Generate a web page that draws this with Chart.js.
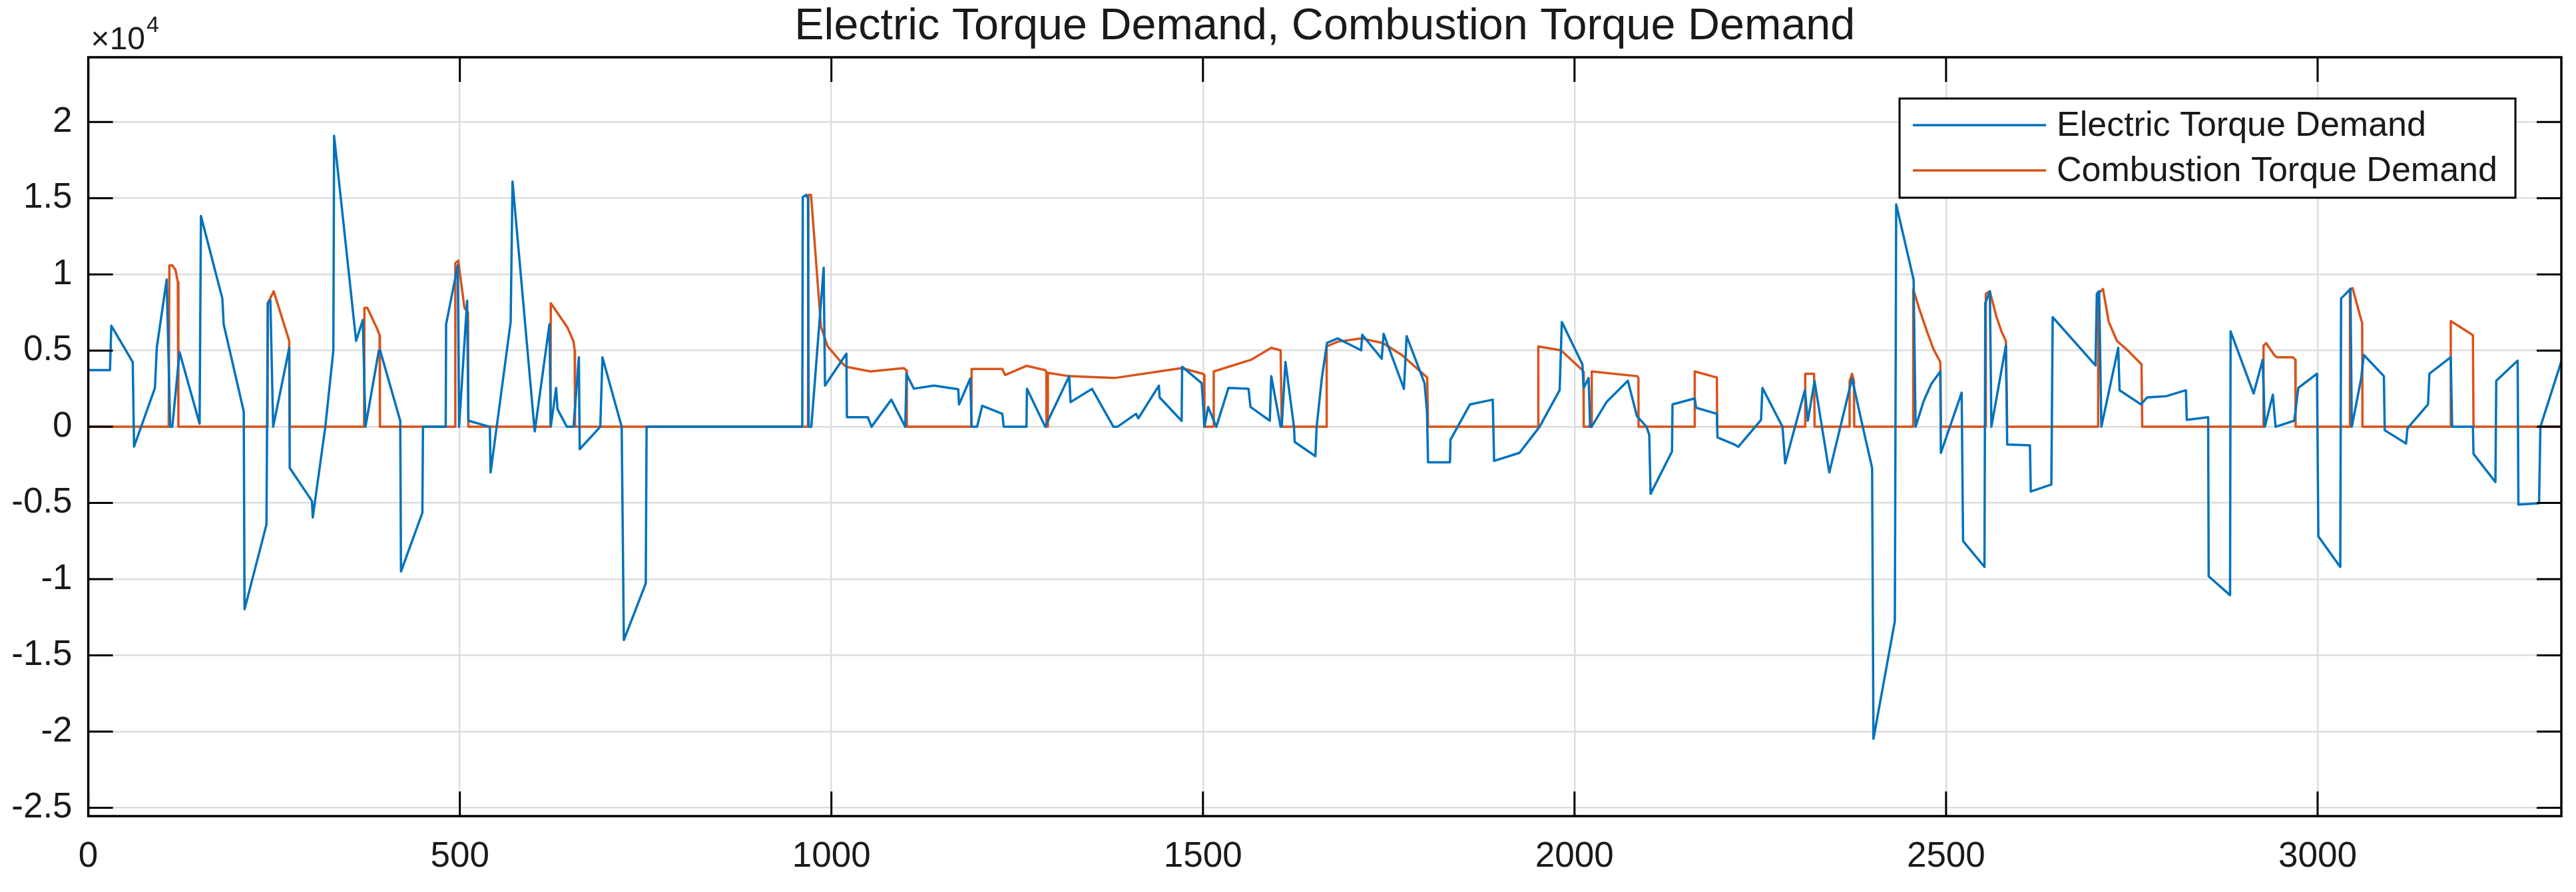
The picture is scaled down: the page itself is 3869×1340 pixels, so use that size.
<!DOCTYPE html>
<html>
<head>
<meta charset="utf-8">
<title>Electric Torque Demand, Combustion Torque Demand</title>
<script src="https://cdn.jsdelivr.net/npm/chart.js@4.4.1/dist/chart.umd.min.js"></script>
<style>
  html, body { margin: 0; padding: 0; background: #fff; }
  canvas { display: block; }
</style>
</head>
<body>
<canvas id="torqueChart" width="3869" height="1340"></canvas>
<script>
// (torque values, x = sample index)
const electricX = [0, 29.2, 31, 59.8, 61.6, 89.7, 92.2, 105.5, 110.2, 113.1, 122.8, 149.8, 151.6, 180.4, 182.2, 209.2, 210.3, 239.8, 241.6, 245, 248.8, 270.4, 271.1, 301, 302.1, 319, 329.8, 330.8, 360.4, 369.4, 373, 391, 392.8, 419.8, 420.8, 449.6, 450.4, 481, 481.5, 497.2, 499, 509.8, 511.5, 540.4, 541.4, 568.4, 570.9, 600, 600.8, 620.6, 622.4, 629.6, 631.4, 644, 653, 660.2, 661.3, 689, 691.9, 717.8, 720.7, 750.2, 751.3, 960.8, 961.5, 966.2, 968.5, 969.5, 973, 989.6, 991.4, 1020.2, 1020.9, 1049, 1054, 1080.6, 1099.4, 1101.1, 1104, 1111, 1138, 1170.7, 1171.8, 1186.9, 1188.7, 1196, 1203, 1230, 1231.9, 1262.5, 1263.2, 1287.7, 1320, 1321.9, 1350.7, 1379.5, 1385, 1410, 1413, 1440.7, 1441.7, 1471.3, 1472, 1498.3, 1500, 1502, 1507, 1518, 1534.3, 1561.3, 1564, 1590, 1591.9, 1604.5, 1606, 1611, 1622.5, 1623.5, 1651.3, 1653, 1660, 1667, 1681.2, 1712.9, 1714.3, 1740.6, 1743.1, 1770.5, 1774.1, 1798.2, 1801.5, 1802.9, 1832.4, 1833.1, 1859.4, 1890, 1891.8, 1926, 1953, 1980, 1982.9, 2010.6, 2012.4, 2019, 2021, 2023, 2043, 2071.8, 2084, 2097, 2100.6, 2102.4, 2131.2, 2131.9, 2161.8, 2163.6, 2191.6, 2192.4, 2215, 2220.5, 2251, 2252.9, 2279.9, 2283.5, 2310, 2314, 2323, 2342.9, 2373.5, 2387.9, 2400.5, 2402.3, 2431.1, 2432.9, 2456.3, 2459, 2470, 2480, 2492.3, 2493, 2521, 2522.9, 2551.7, 2552.8, 2559, 2561, 2580.5, 2582.3, 2612.9, 2614, 2641.7, 2643.5, 2701.1, 2702.9, 2706, 2709, 2731.7, 2733.5, 2762.3, 2770.6, 2795.8, 2822.8, 2823.9, 2852.7, 2853.4, 2882.2, 2882.9, 2913.9, 2926.1, 2929, 2939.8, 2943.4, 2968.6, 2974, 2999.2, 3001, 3030.5, 3031.6, 3044.2, 3046, 3058.6, 3062.2, 3089.2, 3090.3, 3119, 3121, 3148.6, 3150.4, 3179.2, 3181, 3209, 3209.8, 3239.3, 3240.4, 3269.2, 3270.2, 3298, 3299.8, 3328];
const electricY = [3720, 3720, 6630, 4250, -1300, 2550, 5200, 9660, 0, 0, 4900, 200, 13830, 8420, 6730, 1000, -11980, -6410, 8110, 8300, 0, 5180, -2700, -4870, -5950, 0, 5020, 19090, 5640, 7000, 0, 5000, 5000, 400, -9500, -5640, 0, 0, 6720, 10600, 0, 8270, 400, 0, -3000, 6880, 16090, 100, -300, 6730, 0, 2550, 1160, 0, 0, 4560, -1470, 0, 4560, 0, -14000, -10280, 0, 0, 15070, 15220, 15000, 0, 0, 10430, 2700, 4800, 630, 630, 0, 1780, 0, 3480, 3170, 2500, 2700, 2460, 1470, 3170, 0, 0, 1380, 850, 0, 0, 2500, 0, 3320, 1620, 2490, 0, 0, 850, 550, 2700, 1930, 390, 3940, 2860, 1620, 0, 1300, 0, 2550, 2490, 1300, 400, 3320, 0, 0, 4250, 0, -1000, -1930, 0, 3200, 5500, 5800, 5020, 6040, 4470, 6100, 2490, 5950, 2860, 1000, -2330, -2330, -850, 1470, 1780, -2240, -1710, 0, 2400, 6880, 4100, 2550, 3200, 0, 0, 1620, 3020, 700, 0, -540, -4400, -1620, 1470, 1860, 1250, 850, -700, -1160, -1310, 450, 2550, 0, -2400, 2400, 400, 3000, -3000, 3170, 0, -2700, -20480, -12750, 14600, 9660, 0, 1700, 2800, 3630, -1720, 2240, -7500, -9200, 8110, 8890, 0, 5330, -1160, -1220, -4250, -3790, 7190, 4030, 8730, 8900, 0, 5180, 2400, 1470, 1930, 2000, 2400, 450, 630, -9810, -11050, 6260, 2180, 4400, 0, 2100, 0, 400, 2550, 3480, -7190, -9200, 8420, 9040, 0, 3170, 4710, 3320, -230, -1100, -100, 1470, 3480, 4560, 0, 0, -1780, -3630, 3020, 4340, -5110, -5020, 0, 4300];

const combustionX = [0, 108.2, 109.1, 113, 117.4, 120.5, 121.3, 241.2, 241.6, 249.5, 270.4, 271.1, 371.2, 371.6, 375.5, 389, 392, 392.5, 493.5, 493.9, 497.9, 506.2, 511, 511.5, 622, 622.4, 645, 653, 654.5, 655, 968.5, 969, 972.6, 986, 995, 1013, 1020, 1052.6, 1097.6, 1101, 1101.5, 1188.3, 1188.7, 1230, 1233.7, 1262.5, 1287.7, 1289.2, 1289.5, 1291, 1291.3, 1320, 1381, 1471.3, 1500, 1501.5, 1502, 1514, 1514.5, 1564.9, 1591.9, 1604.5, 1606, 1666, 1666.5, 1681, 1713.6, 1742.4, 1767.6, 1801.8, 1802.9, 1951, 1951.3, 1981.8, 2010.6, 2012, 2012.4, 2023, 2023.2, 2084.4, 2086, 2086.2, 2161.5, 2161.8, 2191.6, 2192, 2310.3, 2310.5, 2322.4, 2323.1, 2369.8, 2370.2, 2373.5, 2376, 2376.5, 2455.5, 2455.8, 2463.5, 2474.3, 2483, 2492.3, 2493, 2553.3, 2553.5, 2558.9, 2567.9, 2575, 2580.5, 2582.3, 2704.5, 2704.7, 2711.2, 2719, 2729.9, 2744.3, 2763, 2764, 2927, 2927.2, 2930.8, 2941.6, 2945, 2966.8, 2970, 2970.4, 3043.3, 3043.5, 3047, 3058.6, 3060, 3060.4, 3179, 3179.2, 3209, 3209.8, 3328];
const combustionY = [0, 0, 10590, 10600, 10280, 9500, 0, 0, 8110, 8890, 5640, 0, 0, 7800, 7800, 6400, 6000, 0, 0, 10740, 10900, 7800, 7500, 0, 0, 8110, 6500, 5600, 5000, 0, 0, 15220, 15220, 6570, 5270, 4250, 3940, 3630, 3850, 3700, 0, 0, 3790, 3790, 3400, 4000, 3720, 3600, 0, 0, 3540, 3320, 3200, 3850, 3480, 3400, 0, 0, 3630, 4400, 5180, 5020, 0, 0, 5270, 5580, 5800, 5490, 4710, 3230, 0, 0, 5270, 5020, 3720, 3600, 0, 0, 3630, 3320, 3200, 0, 0, 3630, 3230, 0, 0, 3480, 3480, 0, 0, 3000, 3480, 3000, 0, 0, 9040, 7800, 6260, 5100, 4250, 0, 0, 8730, 8890, 7200, 6200, 5640, 0, 0, 8730, 9040, 6880, 5640, 5020, 4100, 0, 0, 5330, 5490, 4710, 4560, 4560, 4400, 0, 0, 9040, 9100, 7030, 6800, 0, 0, 6940, 6010, 0, 0];

const seriesNames = ['Electric Torque Demand', 'Combustion Torque Demand'];
const xTickValues = [0, 500, 1000, 1500, 2000, 2500, 3000];
const yTickValues = [-25000, -20000, -15000, -10000, -5000, 0, 5000, 10000, 15000, 20000];

const FONT = "'Liberation Sans', Arial, Helvetica, sans-serif";
const TEXT = '#1a1a1a';

function toPoints(xs, ys) {
    return xs.map((x, i) => ({ x: x, y: ys[i] }));
}

// MATLAB-style frame: box on, inward ticks on all four sides, exponent label, legend inside
const matlabFrame = {
    id: 'matlabFrame',
    afterDraw(chart) {
        const { ctx, chartArea: a, scales: { x, y } } = chart;
        ctx.save();
        ctx.strokeStyle = '#000';
        ctx.lineWidth = 3;
        ctx.beginPath();
        xTickValues.forEach(v => {
            const px = x.getPixelForValue(v);
            ctx.moveTo(px, a.bottom); ctx.lineTo(px, a.bottom - 37);
            ctx.moveTo(px, a.top); ctx.lineTo(px, a.top + 37);
        });
        yTickValues.forEach(v => {
            const py = y.getPixelForValue(v);
            ctx.moveTo(a.left, py); ctx.lineTo(a.left + 37, py);
            ctx.moveTo(a.right, py); ctx.lineTo(a.right - 37, py);
        });
        ctx.stroke();
        ctx.lineWidth = 3.5;
        ctx.strokeRect(a.left, a.top, a.right - a.left, a.bottom - a.top);

        // exponent label
        ctx.fillStyle = TEXT;
        ctx.textAlign = 'left';
        ctx.textBaseline = 'alphabetic';
        ctx.font = '48px ' + FONT;
        ctx.fillText('\u00d710', a.left + 4, a.top - 12);
        const w = ctx.measureText('\u00d710').width;
        ctx.font = '34px ' + FONT;
        ctx.fillText('4', a.left + 4 + w + 2, a.top - 38);

        // legend
        const lx = 2853, ly = 148, lw = 925, lh = 149;
        ctx.fillStyle = '#fff';
        ctx.fillRect(lx, ly, lw, lh);
        ctx.lineWidth = 3;
        ctx.strokeStyle = '#000';
        ctx.strokeRect(lx, ly, lw, lh);
        const rows = [188, 256];
        ctx.font = '52px ' + FONT;
        ctx.textBaseline = 'middle';
        chart.data.datasets.forEach((ds, i) => {
            ctx.strokeStyle = ds.borderColor;
            ctx.lineWidth = ds.borderWidth;
            ctx.beginPath();
            ctx.moveTo(2873, rows[i]);
            ctx.lineTo(3073, rows[i]);
            ctx.stroke();
            ctx.fillStyle = TEXT;
            ctx.fillText(ds.label, 3089, rows[i] + 2);
        });
        ctx.restore();
    }
};

const ctx = document.getElementById('torqueChart').getContext('2d');
new Chart(ctx, {
    type: 'line',
    data: {
        datasets: [{
            label: seriesNames[0],
            data: toPoints(electricX, electricY),
            borderColor: '#0072BD',
            borderWidth: 3.5
        }, {
            label: seriesNames[1],
            data: toPoints(combustionX, combustionY),
            borderColor: '#D95319',
            borderWidth: 3.5
        }]
    },
    options: {
        responsive: false,
        devicePixelRatio: 1,
        animation: false,
        events: [],
        elements: {
            point: { radius: 0 },
            line: { tension: 0, borderJoinStyle: 'round' }
        },
        layout: { padding: { left: 0, right: 22, top: 0, bottom: 0 } },
        plugins: {
            legend: { display: false },
            tooltip: { enabled: false },
            title: {
                display: true,
                fullSize: false,
                text: 'Electric Torque Demand, Combustion Torque Demand',
                color: TEXT,
                font: { family: FONT, size: 66.5, weight: 'normal', lineHeight: 1.0 },
                padding: { top: 7, bottom: 12.5 }
            }
        },
        scales: {
            x: {
                type: 'linear',
                min: 0,
                max: 3328,
                afterBuildTicks: s => { s.ticks = xTickValues.map(v => ({ value: v })); },
                afterFit: s => { s.height = 114; },
                grid: { color: '#dddddd', lineWidth: 2.5, drawTicks: false },
                border: { display: false },
                ticks: {
                    color: TEXT,
                    padding: 30,
                    maxRotation: 0,
                    font: { family: FONT, size: 53 },
                    callback: v => String(v)
                }
            },
            y: {
                type: 'linear',
                min: -25550,
                max: 24250,
                afterBuildTicks: s => { s.ticks = yTickValues.map(v => ({ value: v })); },
                afterFit: s => { s.width = 132.6; },
                grid: { color: '#dddddd', lineWidth: 2.5, drawTicks: false },
                border: { display: false },
                ticks: {
                    color: TEXT,
                    padding: 24,
                    font: { family: FONT, size: 53 },
                    callback: v => String(v / 10000)
                }
            }
        }
    },
    plugins: [matlabFrame]
});
</script>
</body>
</html>
